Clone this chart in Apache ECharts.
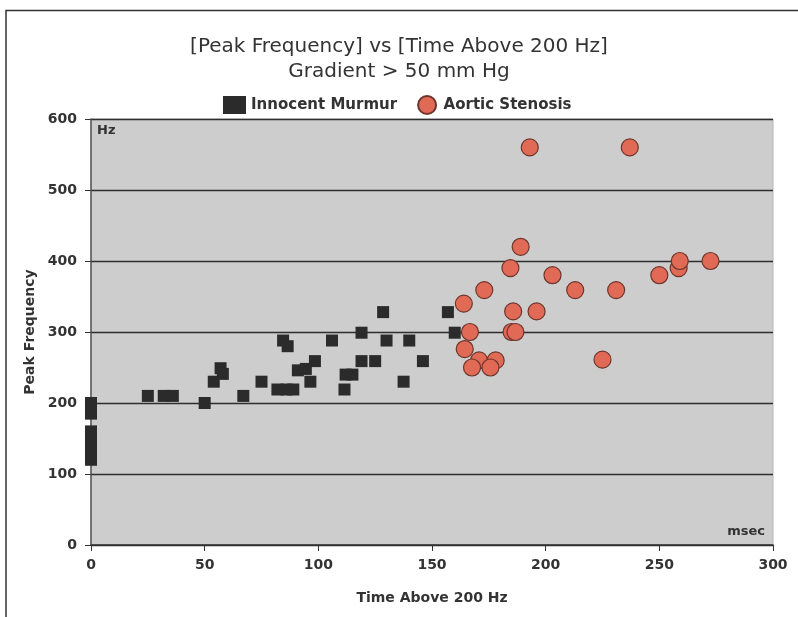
<!DOCTYPE html>
<html>
<head>
<meta charset="utf-8">
<script src="https://cdn.jsdelivr.net/npm/echarts@6/dist/echarts.min.js"></script>
<style>
html,body{margin:0;padding:0;background:#fff;}
#chart{width:798px;height:617px;}
</style>
</head>
<body>
<div id="chart"></div>
<script>
// ---- data ----
var titleLines = ['[Peak Frequency] vs [Time Above 200 Hz]', 'Gradient > 50 mm Hg'];
var seriesNames = ['Innocent Murmur', 'Aortic Stenosis'];
var xTicks = [0, 50, 100, 150, 200, 250, 300];
var yTicks = [0, 100, 200, 300, 400, 500, 600];

var murmurTime = [0, 0, 0, 0, 0, 0, 0, 25, 32, 36, 50, 54, 57, 58, 67, 75, 82, 86, 89, 84.5, 86.5, 91, 94.5, 96.5, 98.5, 106, 111.5, 112, 115, 119, 119, 125, 128.5, 130, 137.5, 140, 146, 157, 160];
var murmurFreq = [200, 185, 160, 150, 140, 130, 120, 210, 210, 210, 200, 230, 249, 241, 210, 230, 219, 219, 219, 288, 280, 246, 248, 230, 259, 288, 219, 240, 240, 299, 259, 259, 328, 288, 230, 288, 259, 328, 299];

var stenosisTime = [193, 237, 189, 184.5, 203, 173, 213, 231, 250, 258.5, 259, 272.5, 164, 185.7, 196, 166.7, 185, 186.7, 164.4, 170.7, 178, 167.6, 175.7, 225];
var stenosisFreq = [560, 560, 420, 390, 380, 359, 359, 359, 380, 390, 400, 400, 340, 329, 329, 300, 300, 300, 276, 260, 260, 250, 250, 261];

function pairs(xs, ys) { return xs.map(function (x, i) { return [x, ys[i]]; }); }

var chart = echarts.init(document.getElementById('chart'), null, {renderer: 'canvas'});
var font = 'DejaVu Sans';
var option = {
  backgroundColor: '#ffffff',
  animation: false,
  title: {
    text: titleLines.join('\n'),
    left: 'center',
    top: 29,
    textStyle: {fontFamily: font, fontSize: 20, fontWeight: 'normal', color: '#333', lineHeight: 25}
  },
  legend: {
    left: 218,
    top: 90,
    itemWidth: 23,
    itemHeight: 18,
    itemGap: 20,
    textStyle: {fontFamily: font, fontSize: 15, fontWeight: 'bold', color: '#333', padding: [0, 0, 0, 0]},
    data: [
      {name: seriesNames[0], icon: 'rect'},
      {name: seriesNames[1], icon: 'circle'}
    ]
  },
  grid: {
    left: 91, right: 25, top: 119, bottom: 72,
    show: true, backgroundColor: '#cdcdcd', borderColor: '#b5b5b5', borderWidth: 1
  },
  xAxis: {
    type: 'value', min: xTicks[0], max: xTicks[xTicks.length - 1], interval: 50,
    name: 'Time Above 200 Hz', nameLocation: 'middle', nameGap: 46,
    nameTextStyle: {fontFamily: font, fontSize: 14, fontWeight: 'bold', color: '#333'},
    axisLine: {show: true, onZero: false, lineStyle: {color: '#333', width: 1.5}},
    axisTick: {show: true, length: 6, lineStyle: {color: '#333'}},
    axisLabel: {margin: 13, fontFamily: font, fontSize: 14, fontWeight: 'bold', color: '#333'},
    splitLine: {show: false}
  },
  yAxis: {
    type: 'value', min: yTicks[0], max: yTicks[yTicks.length - 1], interval: 100,
    name: 'Peak Frequency', nameLocation: 'middle', nameGap: 52,
    nameTextStyle: {fontFamily: font, fontSize: 14, fontWeight: 'bold', color: '#333'},
    axisLine: {show: true, onZero: false, lineStyle: {color: '#555', width: 1.5}},
    axisTick: {show: true, length: 6, lineStyle: {color: '#333'}},
    axisLabel: {margin: 14, fontFamily: font, fontSize: 14, fontWeight: 'bold', color: '#333'},
    splitLine: {show: true, lineStyle: {color: '#2e2e2e', width: 1.3}}
  },
  graphic: [
    {type: 'rect', z: -10, silent: true, shape: {x: 6, y: 10.5, width: 820, height: 640},
     style: {fill: 'none', stroke: '#333', lineWidth: 1.5}},
    {type: 'text', left: 97, top: 124, z: 10,
     style: {text: 'Hz', fontFamily: font, fontSize: 13, fontWeight: 'bold', fill: '#333'}},
    {type: 'text', right: 33, top: 525, z: 10,
     style: {text: 'msec', fontFamily: font, fontSize: 13, fontWeight: 'bold', fill: '#333'}}
  ],
  series: [
    {
      name: seriesNames[0], type: 'scatter', clip: false,
      symbol: 'rect', symbolSize: 12,
      itemStyle: {color: '#2b2b2b', opacity: 1},
      data: pairs(murmurTime, murmurFreq)
    },
    {
      name: seriesNames[1], type: 'scatter', clip: false,
      symbol: 'circle', symbolSize: 17,
      itemStyle: {color: '#e06a56', borderColor: '#6e352b', borderWidth: 1.2, opacity: 1},
      data: pairs(stenosisTime, stenosisFreq)
    }
  ]
};
chart.setOption(option);
</script>
</body>
</html>
